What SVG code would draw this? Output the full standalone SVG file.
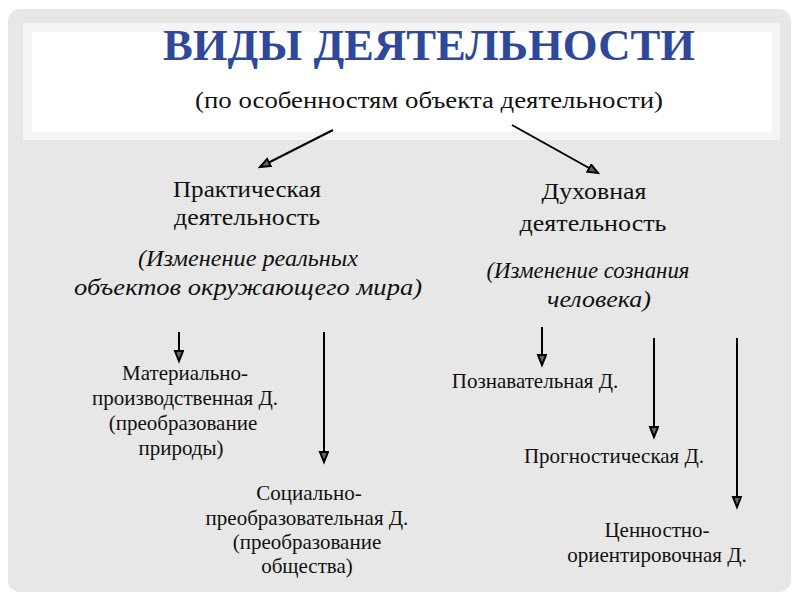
<svg xmlns="http://www.w3.org/2000/svg" width="800" height="600" viewBox="0 0 800 600">
  <defs>
    <marker id="ah" markerUnits="userSpaceOnUse" markerWidth="14" markerHeight="12" refX="11" refY="5" orient="auto">
      <path d="M1,1 L11,5 L1,9 Z" fill="#666666" stroke="#000" stroke-width="2" stroke-linejoin="miter"/>
    </marker>
  </defs>
  <style>
    .t { font-family: "Liberation Serif", "DejaVu Serif", "Times New Roman", serif; fill: #111; text-anchor: middle; }
    .mid { font-size: 23px; }
    .it { font-size: 23px; font-style: italic; }
    .low { font-size: 21px; }
    .title { font-family: "Liberation Serif", "DejaVu Serif", "Times New Roman", serif; font-weight: bold; font-size: 45px; fill: #30489a; text-anchor: middle; }
    .sub { font-family: "Liberation Serif", "DejaVu Serif", "Times New Roman", serif; font-size: 23px; fill: #111; text-anchor: middle; }
    .conn line { stroke: #000; stroke-width: 2; marker-end: url(#ah); }
  </style>

  <rect x="0" y="0" width="800" height="600" fill="#ffffff"/>
  <rect x="8" y="9" width="783" height="583" rx="12" ry="12" fill="#e7e7e7"/>
  <rect x="23" y="23" width="757" height="117" fill="#f4f4f4"/>
  <rect x="32" y="32" width="740" height="100" fill="#ffffff"/>

  <g id="title">
    <text class="title" x="429" y="60" textLength="532" lengthAdjust="spacingAndGlyphs">ВИДЫ ДЕЯТЕЛЬНОСТИ</text>
    <text class="sub" x="429" y="108" textLength="468" lengthAdjust="spacingAndGlyphs">(по особенностям объекта деятельности)</text>
  </g>

  <g id="practical">
    <text class="t mid" x="247" y="197" textLength="148" lengthAdjust="spacingAndGlyphs">Практическая</text>
    <text class="t mid" x="247" y="225" textLength="146" lengthAdjust="spacingAndGlyphs">деятельность</text>
    <text class="t it" x="248" y="266" textLength="220" lengthAdjust="spacingAndGlyphs">(Изменение реальных</text>
    <text class="t it" x="248" y="295" textLength="348" lengthAdjust="spacingAndGlyphs">объектов окружающего мира)</text>
  </g>

  <g id="spiritual">
    <text class="t mid" x="594" y="199" textLength="105" lengthAdjust="spacingAndGlyphs">Духовная</text>
    <text class="t mid" x="593" y="231" textLength="147" lengthAdjust="spacingAndGlyphs">деятельность</text>
    <text class="t it" x="588" y="278" textLength="203" lengthAdjust="spacingAndGlyphs">(Изменение сознания</text>
    <text class="t it" x="599" y="307" textLength="104" lengthAdjust="spacingAndGlyphs">человека)</text>
  </g>

  <g id="material">
    <text class="t low" x="185" y="380">Материально-</text>
    <text class="t low" x="185" y="405">производственная Д.</text>
    <text class="t low" x="183" y="430">(преобразование</text>
    <text class="t low" x="181" y="455">природы)</text>
  </g>

  <g id="social">
    <text class="t low" x="309" y="500">Социально-</text>
    <text class="t low" x="307" y="525">преобразовательная Д.</text>
    <text class="t low" x="307" y="549">(преобразование</text>
    <text class="t low" x="307" y="573">общества)</text>
  </g>

  <g id="cognitive">
    <text class="t low" x="535" y="388">Познавательная Д.</text>
  </g>

  <g id="prognostic">
    <text class="t low" x="614" y="463">Прогностическая Д.</text>
  </g>

  <g id="value">
    <text class="t low" x="657" y="537">Ценностно-</text>
    <text class="t low" x="657" y="562">ориентировочная Д.</text>
  </g>

  <g id="connectors" class="conn">
    <line x1="333" y1="130" x2="260" y2="167"/>
    <line x1="512" y1="125" x2="598" y2="173"/>
    <line x1="179" y1="332" x2="179" y2="361"/>
    <line x1="324" y1="332" x2="324" y2="462"/>
    <line x1="542" y1="327" x2="542" y2="365"/>
    <line x1="654" y1="338" x2="654" y2="437"/>
    <line x1="737" y1="338" x2="737" y2="507"/>
  </g>
</svg>
